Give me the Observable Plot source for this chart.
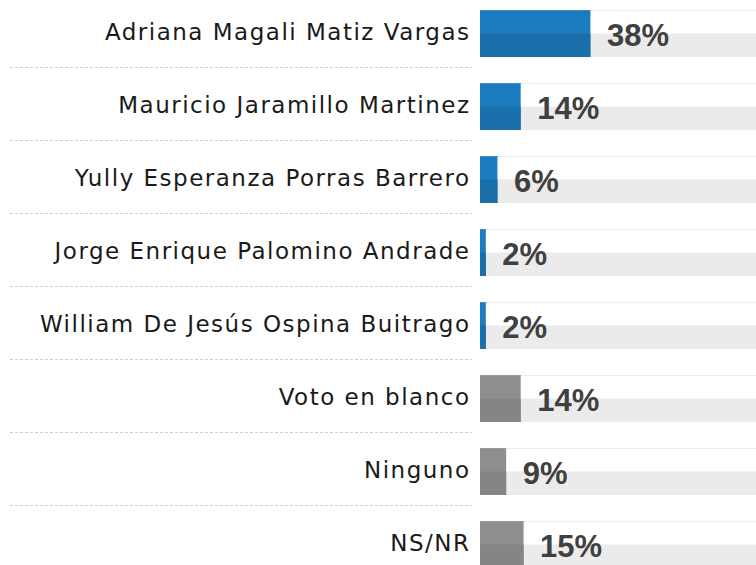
<!DOCTYPE html>
<html>
<head>
<meta charset="utf-8">
<script src="https://cdn.jsdelivr.net/npm/d3@7"></script>
<script src="https://cdn.jsdelivr.net/npm/@observablehq/plot@0.6"></script>
<style>
  html, body { margin: 0; padding: 0; background: #fff; overflow: hidden; }
</style>
</head>
<body>
<div id="chart"></div>
<script>
const categories = [
  "Adriana Magali Matiz Vargas",
  "Mauricio Jaramillo Martinez",
  "Yully Esperanza Porras Barrero",
  "Jorge Enrique Palomino Andrade",
  "William De Jesús Ospina Buitrago",
  "Voto en blanco",
  "Ninguno",
  "NS/NR"
];
const values = [38, 14, 6, 2, 2, 14, 9, 15];
const groups = ["candidato", "candidato", "candidato", "candidato", "candidato", "otro", "otro", "otro"];
const xMax = 95;

const data = categories.map((name, i) => ({ name, value: values[i], group: groups[i] }));

const topColor = { candidato: "#1b7cc0", otro: "#8e8e8e" };
const bottomColor = { candidato: "#1a6fab", otro: "#858585" };
const highlight = { candidato: "#3a8fcc", otro: "#9a9a9a" };

const chart = Plot.plot({
  width: 756,
  height: 578,
  marginLeft: 0,
  marginRight: 0,
  marginTop: 0,
  marginBottom: 0,
  style: { fontFamily: "'DejaVu Sans', sans-serif", background: "#fff" },
  x: { domain: [0, xMax], range: [480, 756], axis: null },
  y: { domain: categories, paddingInner: 0.356, paddingOuter: 0.137, round: false, axis: null },
  marks: [
    Plot.barX(data, { x1: 0, x2: xMax, y: "name", fill: "#ececec", insetBottom: 46 }),
    Plot.barX(data, { x1: 0, x2: xMax, y: "name", fill: "#ebebeb", insetTop: 23.5 }),
    Plot.barX(data, { x: "value", y: "name", fill: d => topColor[d.group] }),
    Plot.barX(data, { x: "value", y: "name", fill: d => bottomColor[d.group], insetTop: 23.5 }),
    Plot.barX(data, { x: "value", y: "name", fill: d => highlight[d.group], insetBottom: 46 }),
    Plot.ruleY(data, { y: "name", dy: 33.5, stroke: "#cfcfcf", strokeDasharray: "3,2", insetLeft: 10, insetRight: 284 }),
    Plot.text(data, { x: 0, y: "name", text: "name", textAnchor: "end", dx: -10, dy: -1, fontSize: 23, fill: "#1a1a1a" }),
    Plot.text(data, { x: "value", y: "name", text: d => d.value + "%", textAnchor: "start", dx: 16, dy: 2,
      fontSize: 31, fontWeight: "bold", fill: "#404040", fontFamily: "'Liberation Sans', sans-serif" })
  ]
});
const textGroups = chart.querySelectorAll('g[aria-label="text"]');
if (textGroups.length) textGroups[0].style.letterSpacing = "1.5px";
document.getElementById("chart").appendChild(chart);
</script>
</body>
</html>
